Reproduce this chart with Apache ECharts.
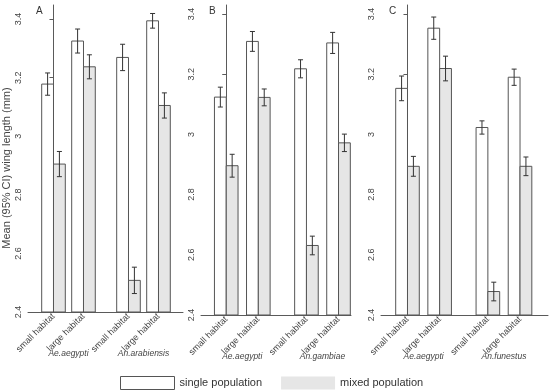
<!DOCTYPE html>
<html>
<head>
<meta charset="utf-8">
<script src="https://cdn.jsdelivr.net/npm/echarts@6/dist/echarts.min.js"></script>
<style>
html,body{margin:0;padding:0;background:#fff;}
#chart{width:550px;height:390px;}
</style>
</head>
<body>
<div id="chart"></div>
<script>
// ---- data ----
const panelLetters = ['A', 'B', 'C'];
const habitats = ['small habitat', 'large habitat'];
const speciesA = ['Ae.aegypti', 'An.arabiensis'];
const speciesB = ['Ae.aegypti', 'An.gambiae'];
const speciesC = ['Ae.aegypti', 'An.funestus'];
const seriesNames = ['single population', 'mixed population'];
const yTitle = 'Mean (95% CI) wing length (mm)';
const yTicks = [2.4, 2.6, 2.8, 3, 3.2, 3.4];

// order: Ae small, Ae large, An small, An large
const singleA = [3.178, 3.325, 3.269, 3.394];
const singleA_ci = [0.038, 0.041, 0.045, 0.025];
const mixedA = [2.905, 3.237, 2.508, 3.105];
const mixedA_ci = [0.043, 0.041, 0.045, 0.043];

const singleB = [3.124, 3.309, 3.218, 3.304];
const singleB_ci = [0.033, 0.033, 0.030, 0.035];
const mixedB = [2.896, 3.123, 2.631, 2.972];
const mixedB_ci = [0.038, 0.028, 0.031, 0.029];

const singleC = [3.153, 3.353, 3.023, 3.190];
const singleC_ci = [0.041, 0.037, 0.022, 0.027];
const mixedC = [2.894, 3.219, 2.478, 2.894];
const mixedC_ci = [0.033, 0.041, 0.031, 0.031];

// ---- layout ----
const layouts = [
  {left: 28, top: 5, width: 155, height: 307, xMin: -0.85, xMax: 4.317, yMax: 3.448},
  {left: 201, top: 5, width: 150, height: 310, xMin: -0.787, xMax: 3.889, yMax: 3.43},
  {left: 381, top: 5, width: 167, height: 310, xMin: -0.824, xMax: 4.37, yMax: 3.43}
];
const panelData = [
  {species: speciesA, single: singleA, singleCi: singleA_ci, mixed: mixedA, mixedCi: mixedA_ci},
  {species: speciesB, single: singleB, singleCi: singleB_ci, mixed: mixedB, mixedCi: mixedB_ci},
  {species: speciesC, single: singleC, singleCi: singleC_ci, mixed: mixedC, mixedCi: mixedC_ci}
];
const Y_MIN = 2.4;
const BAR_PX = 11.8;
const CAP_PX = 2.5;
const FONT = '"Liberation Sans", Arial, sans-serif';
const AXIS_COLOR = '#5a5a5a';
const TEXT_COLOR = '#444';
const FILLS = ['#ffffff', '#e6e6e6'];

// group positions on x: 1 unit between habitats, 1.5 units between species
function pos(i) { return i + (i >= 2 ? 0.5 : 0); }
const labelPositions = [0, 1, 2, 3].map(pos);
const speciesPositions = [(pos(0) + pos(1)) / 2, (pos(2) + pos(3)) / 2];

function makeRender(side) {
  return function (params, api) {
    const x = api.value(0), y = api.value(1), e = api.value(2);
    const c = api.coord([x, y]);
    const base = api.coord([x, Y_MIN]);
    const xl = side === 0 ? c[0] - BAR_PX : c[0];
    const xc = xl + BAR_PX / 2;
    const yt = api.coord([x, y + e])[1];
    const yb = api.coord([x, y - e])[1];
    const stroke = {stroke: '#333', lineWidth: 1};
    return {
      type: 'group',
      children: [
        {type: 'rect', shape: {x: xl, y: c[1], width: BAR_PX, height: base[1] - c[1]},
         style: {fill: FILLS[side], stroke: '#555', lineWidth: 1}},
        {type: 'line', shape: {x1: xc, y1: yt, x2: xc, y2: yb}, style: stroke},
        {type: 'line', shape: {x1: xc - CAP_PX, y1: yt, x2: xc + CAP_PX, y2: yt}, style: stroke},
        {type: 'line', shape: {x1: xc - CAP_PX, y1: yb, x2: xc + CAP_PX, y2: yb}, style: stroke}
      ]
    };
  };
}

const grids = [], xAxes = [], yAxes = [], series = [], titles = [];
layouts.forEach(function (L, p) {
  const D = panelData[p];
  grids.push({left: L.left, top: L.top, width: L.width, height: L.height});
  // habitat labels axis
  xAxes.push({
    type: 'value', gridIndex: p, min: L.xMin, max: L.xMax, position: 'bottom',
    axisLine: {show: true, onZero: false, lineStyle: {color: AXIS_COLOR, width: 1}},
    axisTick: {show: false},
    splitLine: {show: false},
    axisLabel: {
      customValues: labelPositions, rotate: 45, margin: 3,
      fontFamily: FONT, fontSize: 9, color: TEXT_COLOR,
      formatter: function (v) {
        const idx = labelPositions.findIndex(function (q) { return Math.abs(q - v) < 1e-6; });
        return idx >= 0 ? habitats[idx % 2] : '';
      }
    }
  });
  // species labels axis
  xAxes.push({
    type: 'value', gridIndex: p, min: L.xMin, max: L.xMax, position: 'bottom', offset: 34,
    axisLine: {show: false}, axisTick: {show: false}, splitLine: {show: false},
    axisLabel: {
      customValues: speciesPositions, margin: 3,
      fontFamily: FONT, fontSize: 8.5, fontStyle: 'italic', color: TEXT_COLOR,
      formatter: function (v) {
        const idx = speciesPositions.findIndex(function (q) { return Math.abs(q - v) < 1e-6; });
        return idx >= 0 ? D.species[idx] : '';
      }
    }
  });
  yAxes.push({
    type: 'value', gridIndex: p, min: Y_MIN, max: L.yMax,
    axisLine: {show: true, lineStyle: {color: AXIS_COLOR, width: 1}},
    axisTick: {show: true, customValues: yTicks, length: 4, lineStyle: {color: AXIS_COLOR}},
    splitLine: {show: false},
    axisLabel: {customValues: yTicks, rotate: 90, margin: 5, fontFamily: FONT, fontSize: 9, color: TEXT_COLOR}
  });
  [[D.single, D.singleCi], [D.mixed, D.mixedCi]].forEach(function (pair, side) {
    series.push({
      type: 'custom', name: seriesNames[side],
      xAxisIndex: p * 2, yAxisIndex: p,
      itemStyle: {color: FILLS[side], borderColor: '#555'},
      renderItem: makeRender(side),
      encode: {x: 0, y: 1},
      data: pair[0].map(function (v, i) { return [pos(i), v, pair[1][i]]; }),
      silent: true
    });
  });
  titles.push({text: panelLetters[p], left: L.left + 3, top: 1,
    textStyle: {fontFamily: FONT, fontSize: 10, fontWeight: 'normal', color: '#333'}});
});

const chart = echarts.init(document.getElementById('chart'), null, {renderer: 'canvas'});
chart.setOption({
  animation: false,
  backgroundColor: '#fff',
  title: titles,
  grid: grids,
  xAxis: xAxes,
  yAxis: yAxes,
  graphic: [{
    type: 'text', x: 7, y: 168, rotation: Math.PI / 2, silent: true,
    style: {text: yTitle, fontFamily: FONT, fontSize: 11, fill: TEXT_COLOR,
      align: 'center', verticalAlign: 'middle'}
  }],
  legend: {
    left: 115, top: 371, itemWidth: 54, itemHeight: 13, itemGap: 19,
    selectedMode: false, icon: 'rect',
    textStyle: {fontFamily: FONT, fontSize: 11, color: '#333'},
    data: [
      {name: seriesNames[0], itemStyle: {color: FILLS[0], borderColor: '#555', borderWidth: 1}},
      {name: seriesNames[1], itemStyle: {color: FILLS[1], borderWidth: 0}}
    ]
  },
  series: series
});
</script>
</body>
</html>
